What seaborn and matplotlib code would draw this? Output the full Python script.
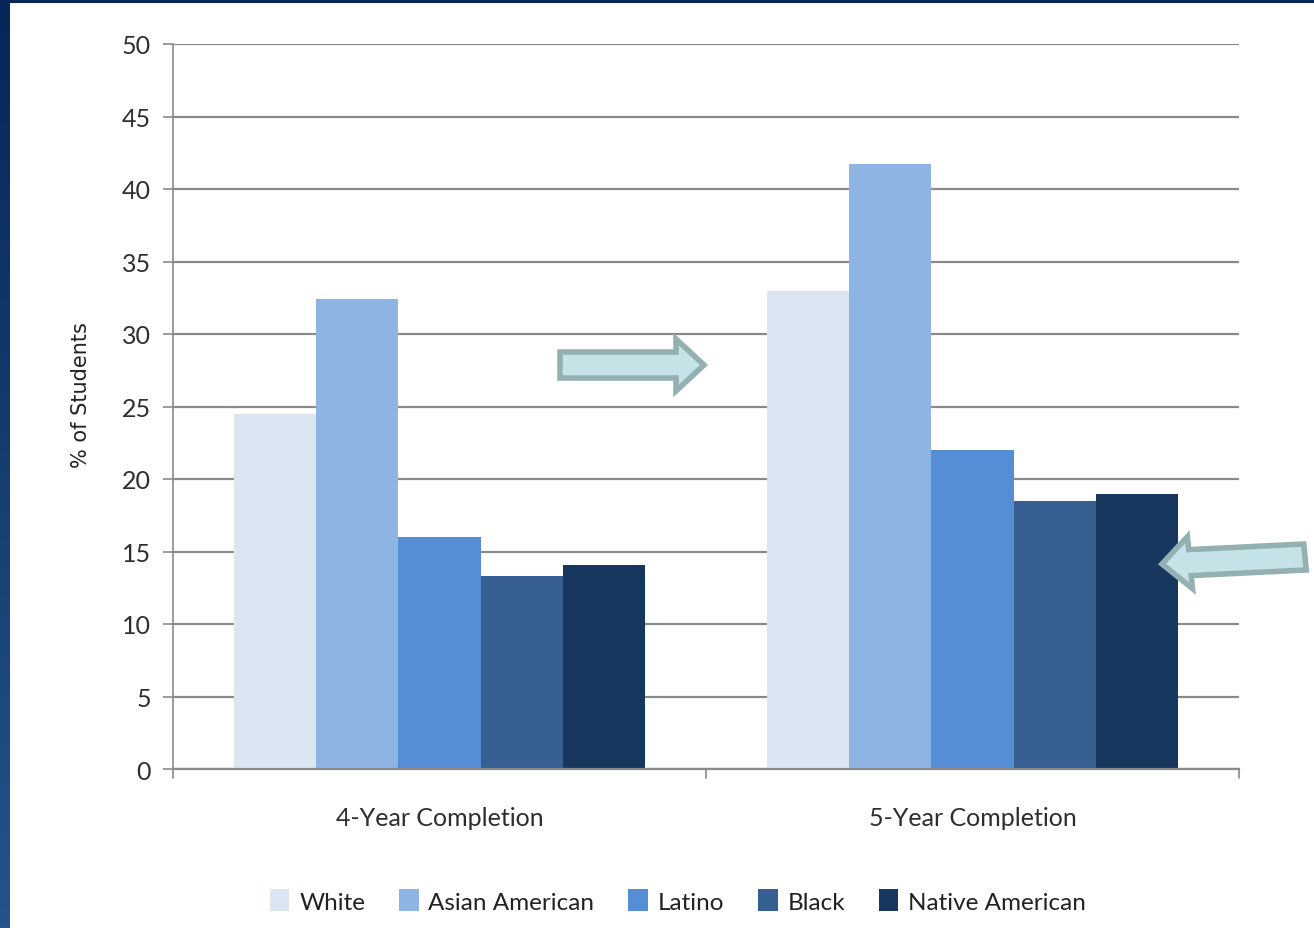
import numpy as np
import pandas as pd
import matplotlib
matplotlib.use("Agg")
import matplotlib.pyplot as plt
from matplotlib.patches import FancyArrow, Rectangle
import seaborn as sns

# Completion rates by group
categories = ["4-Year Completion", "5-Year Completion"]
groups = ["White", "Asian American", "Latino", "Black", "Native American"]
four_year = [24.5, 32.4, 16.0, 13.3, 14.1]
five_year = [33.0, 41.7, 22.0, 18.5, 19.0]
colors = ["#dce6f2", "#8eb4e3", "#558ed5", "#376092", "#17375e"]
y_ticks = [0, 5, 10, 15, 20, 25, 30, 35, 40, 45, 50]

df = pd.DataFrame({
    "period": [categories[0]] * len(groups) + [categories[1]] * len(groups),
    "group": groups * 2,
    "value": four_year + five_year,
})

sns.set_theme(style="white")
plt.rcParams["font.family"] = ["Lato", "DejaVu Sans"]

W, H = 1314, 929
fig = plt.figure(figsize=(W / 100, H / 100), dpi=100)
fig.patch.set_facecolor("white")

ax = fig.add_axes([173 / W, 1 - 770 / H, (1239 - 173) / W, (770 - 45) / H])
sns.barplot(data=df, x="period", y="value", hue="group", hue_order=groups,
            palette=colors, width=0.77, saturation=1, ax=ax, legend=True,
            edgecolor="none", linewidth=0)

grid_c = "#8a8a8a"
ax.set_ylim(0, 50)
ax.set_yticks(y_ticks)
ax.set_xlim(-0.5, 1.5)
ax.yaxis.grid(True, color=grid_c, linewidth=1.6)
ax.set_axisbelow(True)
for s in ["top", "right"]:
    ax.spines[s].set_visible(False)
ax.spines["left"].set_color(grid_c)
ax.spines["left"].set_linewidth(1.2)
ax.spines["bottom"].set_color(grid_c)
ax.spines["bottom"].set_linewidth(1.6)
ax.tick_params(axis="y", left=True, length=7, width=1.2, color=grid_c,
               labelsize=18, labelcolor="#2e2e2e", pad=9)
ax.tick_params(axis="x", bottom=False, labelsize=18, labelcolor="#2e2e2e", pad=21)
ax.set_xlabel("")
ax.set_ylabel("% of Students", fontsize=15, color="#222222",
              family=["DejaVu Sans"])
ax.yaxis.set_label_coords(-0.077, 0.517)

# category boundary ticks on the x axis
for xb in [-0.5, 0.5, 1.5]:
    ax.plot([xb, xb], [0, -0.012], transform=ax.get_xaxis_transform(),
            color=grid_c, lw=1.2, clip_on=False)

handles, labels = ax.get_legend_handles_labels()
ax.legend_.remove()
fig.legend(handles, labels, loc="center", bbox_to_anchor=(678 / W, 1 - 902 / H),
           ncol=5, frameon=False, fontsize=17.5, handlelength=0.8, handleheight=1.0,
           handletextpad=0.4, columnspacing=1.4, labelcolor="#222222")

# callout arrows
face, edge = "#c5e3e6", "#94b0b3"
def px(x, y):
    return x / W, 1 - y / H
x0, y0 = px(560, 366)
x1, _ = px(704, 366)
fig.patches.append(FancyArrow(x0, y0, x1 - x0, 0, width=26 / H,
                              head_width=52 / H, head_length=28 / W,
                              length_includes_head=True, facecolor=face,
                              edgecolor=edge, linewidth=4,
                              transform=fig.transFigure, figure=fig))
x0, y0 = px(1305, 558)
x1, y1 = px(1162, 565)
fig.patches.append(FancyArrow(x0, y0, x1 - x0, y1 - y0, width=26 / H,
                              head_width=52 / H, head_length=28 / W,
                              length_includes_head=True, facecolor=face,
                              edgecolor=edge, linewidth=4,
                              transform=fig.transFigure, figure=fig))

# navy frame on the left and top edges
bax = fig.add_axes([0, 0, 10 / W, 1])
grad = np.linspace(0, 1, 256).reshape(-1, 1)
cmap = matplotlib.colors.LinearSegmentedColormap.from_list("edge", ["#062757", "#25548a"])
bax.imshow(grad, aspect="auto", cmap=cmap, extent=[0, 1, 0, 1], origin="upper")
bax.axis("off")
fig.patches.append(Rectangle((0, 1 - 4 / H), 1, 4 / H, facecolor="#062757",
                             edgecolor="none", transform=fig.transFigure, figure=fig))

fig.savefig("out.png", dpi=100)
